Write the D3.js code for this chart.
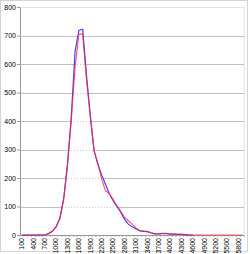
<!DOCTYPE html>
<html>
<head>
<meta charset="utf-8">
<script src="https://cdnjs.cloudflare.com/ajax/libs/d3/7.8.5/d3.min.js"></script>
<style>
  html, body { margin: 0; padding: 0; background: #fff; }
  svg text { font-family: Arial, "Liberation Sans", sans-serif; fill: #000; }
</style>
</head>
<body>
<svg id="chart" width="250" height="254"></svg>
<script>
// categories 100..5900 in steps of 100
const categories = d3.range(100, 6000, 100);
const yTicks = [0, 100, 200, 300, 400, 500, 600, 700, 800];
const xTickLabels = categories.filter((d, i) => i % 3 === 0);

const blueValues = [
  0, 0, 0, 0, 0, 0, 0, 5, 13, 28,
  58, 126, 245, 415, 645, 718, 722, 560, 420, 295,
  248, 210, 178, 145, 120, 100, 80, 55, 38, 29,
  22, 14, 13, 12, 7, 4, 4, 5, 5, 3,
  3, 2, 2, 1, 0, 0,
];

const redValues = [
  0, 0, 0, 0, 0, 0, 0, 4, 12, 30,
  60, 128, 248, 405, 590, 705, 706, 545, 415, 295,
  250, 196, 155, 146, 124, 103, 84, 62, 50, 38,
  25, 16, 14, 13, 8, 5, 5, 6, 6, 4,
  3, 2, 2, 1, 0, 0, 0, 0, 0, 0,
  0, 0, 0, 0, 0, 0, 0, 0, 0,
];

const padding = { top: 7, left: 20 };
const plotWidth = 224.2;
const plotHeight = 228;

const svg = d3.select('#chart');

// outer frame
svg.append('rect')
  .attr('x', 0.5).attr('y', 0.5)
  .attr('width', 247).attr('height', 251)
  .attr('fill', 'none')
  .attr('stroke', '#d4d4d4');

const g = svg.append('g')
  .attr('transform', `translate(${padding.left} ${padding.top})`);

const xScale = d3.scaleBand().domain(categories).range([0, plotWidth]).padding(0);
const xPos = c => xScale(c) + xScale.bandwidth() / 2;
const yScale = d3.scaleLinear().domain([0, 800]).range([plotHeight, 0]);

// plot area border (top / right)
g.append('path')
  .attr('d', `M0,0.5H${plotWidth}V${plotHeight}`)
  .attr('fill', 'none')
  .attr('stroke', '#e0e0e0');

// gridlines
g.selectAll('.grid')
  .data(yTicks.filter(d => d > 0 && d < 800))
  .enter()
  .append('line')
  .attr('class', 'grid')
  .attr('x1', 0).attr('x2', plotWidth)
  .attr('y1', d => Math.round(yScale(d)) + 0.5)
  .attr('y2', d => Math.round(yScale(d)) + 0.5)
  .attr('stroke', '#c0c0c0');

const blueData = blueValues.map((v, i) => ({ cat: categories[i], v }));
const redData = redValues.map((v, i) => ({ cat: categories[i], v }));

// white area under the curves; gridlines inside show dotted
const area = d3.area()
  .x(d => xPos(d.cat))
  .y0(plotHeight)
  .y1(d => yScale(d.v));

g.append('path')
  .datum(blueData)
  .attr('d', area)
  .attr('fill', '#fff');

g.append('clipPath').attr('id', 'under')
  .append('path').datum(blueData).attr('d', area);

g.append('g')
  .attr('clip-path', 'url(#under)')
  .selectAll('line')
  .data(yTicks.filter(d => d > 0 && d < 800))
  .enter()
  .append('line')
  .attr('x1', 0).attr('x2', plotWidth)
  .attr('y1', d => Math.round(yScale(d)) + 0.5)
  .attr('y2', d => Math.round(yScale(d)) + 0.5)
  .attr('stroke', '#c8c8c8')
  .attr('stroke-dasharray', '1,2');

// axes
const yAxis = d3.axisLeft(yScale).tickValues(yTicks).tickSize(3).tickSizeOuter(0);
const yG = g.append('g').call(yAxis);
yG.select('.domain').attr('stroke', '#999');
yG.selectAll('.tick line').attr('stroke', '#999');
yG.selectAll('.tick text')
  .attr('font-size', 7)
  .attr('x', -4)
  .attr('font-family', 'Arial, "Liberation Sans", sans-serif');

const xAxis = d3.axisBottom(xScale).tickValues(xTickLabels).tickSize(0).tickSizeOuter(0);
const xG = g.append('g')
  .attr('transform', `translate(0, ${plotHeight})`)
  .call(xAxis);
xG.select('.domain').attr('stroke', '#999');
xG.selectAll('.tick text')
  .attr('font-size', 7)
  .attr('font-family', 'Arial, "Liberation Sans", sans-serif')
  .attr('transform', 'rotate(-90)')
  .attr('text-anchor', 'end')
  .attr('x', -3)
  .attr('y', 0)
  .attr('dy', '0.33em');

// small tick marks between every category
g.append('g')
  .selectAll('line')
  .data(categories.concat([null]))
  .enter()
  .append('line')
  .attr('x1', (d, i) => i * xScale.bandwidth())
  .attr('x2', (d, i) => i * xScale.bandwidth())
  .attr('y1', plotHeight)
  .attr('y2', plotHeight + 2)
  .attr('stroke', '#999')
  .attr('stroke-width', 0.6);

// series lines
const lineGen = d3.line()
  .x(d => xPos(d.cat))
  .y(d => yScale(d.v));

g.append('path')
  .datum(blueData)
  .attr('d', lineGen)
  .attr('fill', 'none')
  .attr('stroke', '#2020ff')
  .attr('stroke-width', 1.2)
  .attr('opacity', 0.85);

g.append('path')
  .datum(redData)
  .attr('d', lineGen)
  .attr('fill', 'none')
  .attr('stroke', '#ff2040')
  .attr('stroke-width', 1.2)
  .attr('opacity', 0.75);
</script>
</body>
</html>
